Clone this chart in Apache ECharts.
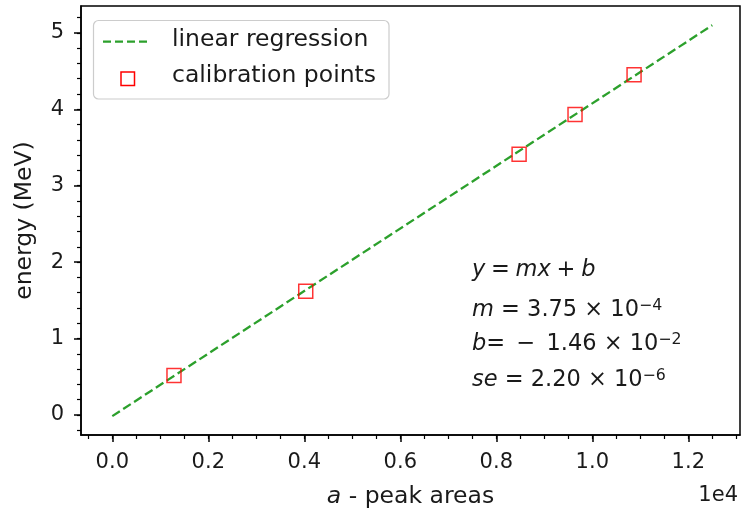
<!DOCTYPE html>
<html>
<head>
<meta charset="utf-8">
<script src="https://cdn.jsdelivr.net/npm/echarts@6/dist/echarts.min.js"></script>
<style>
  html, body { margin: 0; padding: 0; background: #ffffff; }
  #chart { width: 741px; height: 518px; }
</style>
</head>
<body>
<div id="chart"></div>
<script>
// Calibration measurements: peak areas against known line energies (MeV)
const peakAreas = [1285, 4030, 8475, 9640, 10870];
const energies = [0.515, 1.62, 3.41, 3.93, 4.45];

// End points of the fitted regression line
const fitX = [0, 12500];
const fitY = [-0.015, 5.1];

// Axis ticks (x shown in units of 1e4)
const xTickValues = [0, 2000, 4000, 6000, 8000, 10000, 12000];
const xTickLabels = ['0.0', '0.2', '0.4', '0.6', '0.8', '1.0', '1.2'];
const yTickValues = [0, 1, 2, 3, 4, 5];
const yTickLabels = ['0', '1', '2', '3', '4', '5'];

const FONT = 'DejaVu Sans';
const INK = '#1a1a1a';
const GREEN = '#2ca02c';
const RED = '#ff0000';

const X_MIN = -652, X_MAX = 13077;
const Y_MIN = -0.262, Y_MAX = 5.351;

// minor tick positions
const xMinor = [];
for (let v = -500; v <= 13000; v += 500) xMinor.push(v);
const yMinor = [];
for (let k = -1; k <= 26; k++) yMinor.push(+(k * 0.2).toFixed(1));

const chart = echarts.init(document.getElementById('chart'), null, { renderer: 'canvas' });

const mathRich = {
  v: { fontFamily: FONT, fontStyle: 'italic', fontSize: 22.5, color: INK, lineHeight: 24 },
  n: { fontFamily: FONT, fontSize: 22.5, color: INK, lineHeight: 24 },
  sp: { fontFamily: FONT, fontSize: 18, color: INK, lineHeight: 24 },
  s: { fontFamily: FONT, fontSize: 15.75, color: INK, lineHeight: 16, verticalAlign: 'top' }
};

function mathLine(text, y) {
  return {
    type: 'text',
    left: 472, top: y - 12,
    silent: true,
    style: { text: text, rich: mathRich, font: '22.5px ' + FONT, fill: INK }
  };
}

const option = {
  animation: false,
  backgroundColor: '#ffffff',
  grid: {
    left: 81, top: 6, right: 1, bottom: 83,
    show: true, borderColor: '#000', borderWidth: 1.5, backgroundColor: 'transparent'
  },
  xAxis: [
    {
      type: 'value', min: X_MIN, max: X_MAX, position: 'bottom',
      name: '{i|a} - peak areas',
      nameLocation: 'middle', nameGap: 49,
      nameTextStyle: {
        fontFamily: FONT, fontSize: 23.5, color: INK, lineHeight: 26,
        rich: { i: { fontFamily: FONT, fontStyle: 'italic', fontSize: 23.5, color: INK, lineHeight: 26 } }
      },
      axisLine: { show: true, onZero: false, lineStyle: { color: '#000', width: 1.5 } },
      axisTick: { show: true, customValues: xTickValues, length: 7, lineStyle: { color: '#000', width: 1.5 } },
      axisLabel: {
        show: true, customValues: xTickValues, margin: 17,
        fontFamily: FONT, fontSize: 21, color: INK, lineHeight: 22,
        formatter: v => xTickLabels[xTickValues.indexOf(v)]
      },
      splitLine: { show: false }
    },
    {
      type: 'value', min: X_MIN, max: X_MAX, position: 'bottom',
      axisLine: { show: false, onZero: false },
      axisTick: { show: true, customValues: xMinor, length: 4, lineStyle: { color: '#000', width: 1.2 } },
      axisLabel: { show: false },
      splitLine: { show: false }
    }
  ],
  yAxis: [
    {
      type: 'value', min: Y_MIN, max: Y_MAX, position: 'left',
      name: 'energy (MeV)',
      nameLocation: 'middle', nameGap: 43, nameRotate: 90,
      nameTextStyle: { fontFamily: FONT, fontSize: 23.5, color: INK, lineHeight: 26 },
      axisLine: { show: true, onZero: false, lineStyle: { color: '#000', width: 1.5 } },
      axisTick: { show: true, customValues: yTickValues, length: 7, lineStyle: { color: '#000', width: 1.5 } },
      axisLabel: {
        show: true, customValues: yTickValues, margin: 17,
        fontFamily: FONT, fontSize: 21, color: INK,
        formatter: v => yTickLabels[yTickValues.indexOf(v)]
      },
      splitLine: { show: false }
    },
    {
      type: 'value', min: Y_MIN, max: Y_MAX, position: 'left',
      axisLine: { show: false, onZero: false },
      axisTick: { show: true, customValues: yMinor, length: 4, lineStyle: { color: '#000', width: 1.2 } },
      axisLabel: { show: false },
      splitLine: { show: false }
    }
  ],
  series: [
    {
      name: 'linear regression',
      type: 'line',
      data: fitX.map((x, i) => [x, fitY[i]]),
      symbol: 'none',
      lineStyle: { color: GREEN, width: 2.3, type: [9, 4] },
      silent: true,
      z: 2
    },
    {
      name: 'calibration points',
      type: 'scatter',
      data: peakAreas.map((x, i) => [x, energies[i]]),
      symbol: 'rect',
      symbolSize: 14,
      itemStyle: { color: 'rgba(0,0,0,0)', borderColor: RED, borderWidth: 1.5 },
      silent: true,
      z: 3
    }
  ],
  graphic: [
    // legend box
    {
      type: 'rect', silent: true, z: 10,
      shape: { x: 93.5, y: 20.5, width: 295.5, height: 78.5, r: 5 },
      style: { fill: 'rgba(255,255,255,0.8)', stroke: '#cccccc', lineWidth: 1.2 }
    },
    {
      type: 'line', silent: true, z: 11,
      shape: { x1: 103, y1: 41.7, x2: 150, y2: 41.7 },
      style: { stroke: GREEN, lineWidth: 2.2, lineDash: [8, 4] }
    },
    {
      type: 'rect', silent: true, z: 11,
      shape: { x: 121, y: 72, width: 13.5, height: 13.5 },
      style: { fill: 'none', stroke: RED, lineWidth: 1.5 }
    },
    {
      type: 'text', silent: true, z: 11, x: 172, y: 40,
      style: { text: 'linear regression', font: '23.5px ' + FONT, fill: INK, verticalAlign: 'middle' }
    },
    {
      type: 'text', silent: true, z: 11, x: 172, y: 75.5,
      style: { text: 'calibration points', font: '23.5px ' + FONT, fill: INK, verticalAlign: 'middle' }
    },
    // offset label for the x axis
    {
      type: 'text', silent: true, right: 3, top: 485,
      style: { text: '1e4', font: '21px ' + FONT, fill: INK }
    },
    // fit summary
    mathLine('{v|y}{sp| }{n|=}{sp| }{v|mx}{sp| }{n|+}{sp| }{v|b}', 270.5),
    mathLine('{v|m}{n| = 3.75 × 10}{s|−4}', 310.2),
    mathLine('{v|b}{n|=\u2002−\u20021.46 × 10}{s|−2}', 343.9),
    mathLine('{v|se}{n| = 2.20 × 10}{s|−6}', 380.2)
  ]
};

chart.setOption(option);
</script>
</body>
</html>
